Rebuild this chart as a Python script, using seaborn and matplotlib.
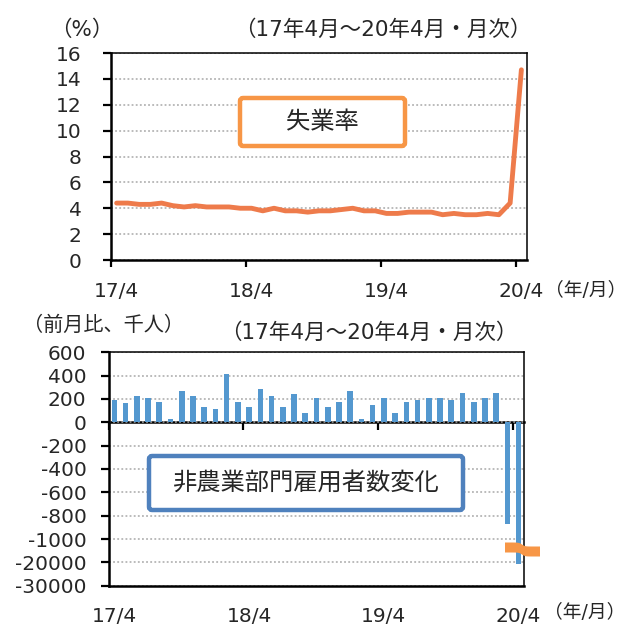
import numpy as np
import pandas as pd
import matplotlib
matplotlib.use("Agg")
import matplotlib.pyplot as plt
import matplotlib.patches as mpatches
import seaborn as sns

# ---- data -------------------------------------------------------------
months = [f"{y}/{m}" for y in range(17, 21) for m in range(1, 13)][3:40]
tick_labels = ["17/4", "18/4", "19/4", "20/4"]

# unemployment rate (%)
unemployment = [4.4, 4.4, 4.3, 4.3, 4.4, 4.2, 4.1, 4.2, 4.1,
                4.1, 4.1, 4.0, 4.0, 3.8, 4.0, 3.8, 3.8, 3.7, 3.8, 3.8, 3.9,
                4.0, 3.8, 3.8, 3.6, 3.6, 3.7, 3.7, 3.7, 3.5, 3.6, 3.5, 3.5,
                3.6, 3.5, 4.4, 14.7]

# nonfarm payroll change (thousands, m/m)
payrolls = [194, 163, 223, 209, 177, 29, 269, 226, 131,
            117, 411, 177, 131, 286, 226, 131, 240, 83, 206, 131, 177,
            269, 26, 146, 206, 83, 177, 194, 206, 206, 194, 254, 177,
            206, 254, -870, -20500]

pay_ticks = [600, 400, 200, 0, -200, -400, -600, -800, -1000, -20000, -30000]

# ---- styling ----------------------------------------------------------
sns.set_style("white")
plt.rcParams["font.family"] = ["DejaVu Sans", "Noto Sans CJK JP"]

ORANGE_LINE = "#EE7B4B"
ORANGE_BOX = "#F79646"
BLUE_BAR = "#5498CF"
BLUE_BOX = "#4F81BD"
GRID = "#A8A8A8"

W, H = 627, 624
fig = plt.figure(figsize=(W / 100, H / 100), dpi=100)


def rect(l, t, r, b):
    return [l / W, 1 - b / H, (r - l) / W, (b - t) / H]


def fx(px):
    return px / W


def fy(py):
    return 1 - py / H


year_starts = [0, 12, 24, 36]              # first month of each year
year_bounds = [-0.5, 11.5, 23.5, 35.5]     # boundaries carrying tick marks

# ---- top panel: unemployment rate ------------------------------------
ax1 = fig.add_axes(rect(111, 53, 527, 260))
sns.lineplot(x=np.arange(len(unemployment)), y=unemployment, ax=ax1,
             color=ORANGE_LINE, linewidth=3.5,
             solid_joinstyle="round", solid_capstyle="round")
ax1.set_xlim(-0.5, len(unemployment) - 0.5)
ax1.set_ylim(0, 16)
ax1.set_yticks(range(0, 17, 2))
ax1.set_xticks(year_bounds, labels=[""] * 4)
ax1.set_xticks(year_starts, labels=tick_labels, minor=True)
ax1.set_xlabel("")
ax1.set_ylabel("")
ax1.yaxis.grid(True, color=GRID, linestyle=(0, (1.2, 1.5)), linewidth=1.1)
ax1.xaxis.grid(False, which="both")
ax1.set_axisbelow(True)
ax1.tick_params(axis="y", direction="out", length=6, width=1.6,
                pad=15, labelsize=14.5, left=True, color="black")
ax1.tick_params(axis="x", which="major", direction="out", length=5,
                width=1.6, bottom=True, color="black")
ax1.tick_params(axis="x", which="minor", length=0, pad=16, labelsize=14.5)
for s in ("left", "bottom"):
    ax1.spines[s].set_linewidth(1.8)
for s in ("top", "right"):
    ax1.spines[s].set_linewidth(1.1)
for s in ax1.spines.values():
    s.set_color("black")


# ---- bottom panel: payrolls with a broken value axis -----------------
def fwd(v):
    v = np.asarray(v, dtype=float)
    return np.where(v >= -1000, v,
                    np.where(v >= -20000,
                             -1000 + (v + 1000) * 200 / 19000,
                             -1200 + (v + 20000) * 200 / 10000))


def inv(y):
    y = np.asarray(y, dtype=float)
    return np.where(y >= -1000, y,
                    np.where(y >= -1200,
                             -1000 + (y + 1000) * 19000 / 200,
                             -20000 + (y + 1200) * 10000 / 200))


ax2 = fig.add_axes(rect(108.7, 352.3, 524.3, 585.7))
df = pd.DataFrame({"month": months, "change": payrolls})
sns.barplot(data=df, x="month", y="change", ax=ax2, color=BLUE_BAR,
            saturation=1, width=0.5, linewidth=0)
ax2.set_yscale("function", functions=(fwd, inv))
ax2.set_ylim(-30000, 600)
ax2.set_yticks(pay_ticks, labels=[str(t) for t in pay_ticks])
ax2.set_xlim(-0.5, len(payrolls) - 0.5)
ax2.set_xticks(year_starts, labels=tick_labels)
ax2.set_xlabel("")
ax2.set_ylabel("")
ax2.yaxis.grid(True, color=GRID, linestyle=(0, (1.2, 1.5)), linewidth=1.1)
ax2.xaxis.grid(False)
ax2.set_axisbelow(True)
ax2.tick_params(axis="y", direction="out", length=6, width=1.6,
                pad=10, labelsize=14.5, left=True, color="black")
ax2.tick_params(axis="x", length=0, pad=15, labelsize=14.5)
for s in ("left", "bottom"):
    ax2.spines[s].set_linewidth(1.8)
for s in ("top", "right"):
    ax2.spines[s].set_linewidth(1.1)
for s in ax2.spines.values():
    s.set_color("black")

# zero line carrying the period ticks
zero_frac = float((fwd(0) - fwd(-30000)) / (fwd(600) - fwd(-30000)))
sec = ax2.secondary_xaxis(zero_frac)
sec.set_xticks(year_bounds)
sec.tick_params(axis="x", direction="in", length=6, width=1.6,
                labeltop=False, labelbottom=False, color="black")
for s in sec.spines.values():
    s.set_linewidth(1.8)
    s.set_color("black")

# break mark on the value axis
xs = np.linspace(505, 540, 40)
yc = 549.5 + 2.0 * np.tanh((xs - 522) / 3.0)
upper = [(fx(x), fy(y - 5)) for x, y in zip(xs, yc)]
lower = [(fx(x), fy(y + 5)) for x, y in zip(xs[::-1], yc[::-1])]
fig.add_artist(mpatches.Polygon(upper + lower, closed=True,
                                transform=fig.transFigure,
                                facecolor=ORANGE_BOX, edgecolor="none",
                                zorder=10))

# ---- labelled boxes ---------------------------------------------------
def label_box(l, t, r, b, edge, text):
    fig.add_artist(mpatches.FancyBboxPatch(
        (fx(l), fy(b)), fx(r) - fx(l), fy(t) - fy(b),
        boxstyle="round,pad=0,rounding_size=0.005",
        transform=fig.transFigure, facecolor="white", edgecolor=edge,
        linewidth=3.2, zorder=5))
    fig.text(fx((l + r) / 2), fy((t + b) / 2), text, fontsize=17.5,
             ha="center", va="center", zorder=6,
             family=["Noto Sans CJK JP"])


label_box(240, 98, 405, 146, ORANGE_BOX, "失業率")
label_box(149, 456, 463, 510, BLUE_BOX, "非農業部門雇用者数変化")

# ---- annotations ------------------------------------------------------
fig.text(fx(50), fy(30), "（%）", fontsize=15.5, ha="left", va="center")
fig.text(fx(383), fy(30), "（17年4月～20年4月・月次）", fontsize=15.5,
         ha="center", va="center")
fig.text(fx(545), fy(290), "（年/月）", fontsize=13.5, ha="left",
         va="center")

fig.text(fx(23), fy(325), "（前月比、千人）", fontsize=14.5, ha="left",
         va="center")
fig.text(fx(369), fy(333), "（17年4月～20年4月・月次）", fontsize=15.5,
         ha="center", va="center")
fig.text(fx(544), fy(613), "（年/月）", fontsize=13.5, ha="left",
         va="center")

fig.savefig("out.png", dpi=100, facecolor="white")
